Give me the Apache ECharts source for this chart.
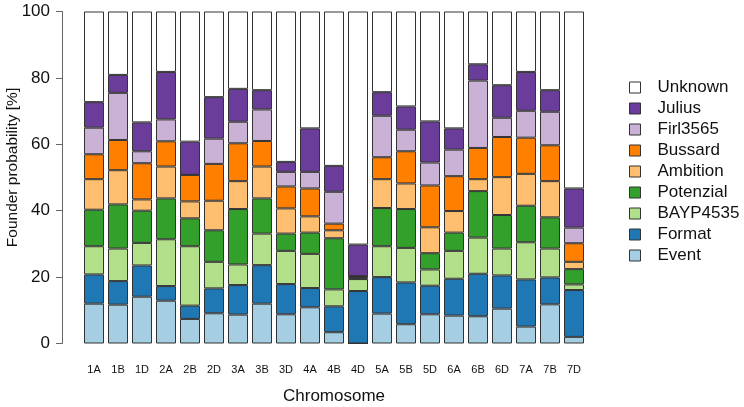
<!DOCTYPE html>
<html>
<head>
<meta charset="utf-8">
<script src="https://cdn.jsdelivr.net/npm/echarts@6/dist/echarts.min.js"></script>
<style>html,body{margin:0;padding:0;background:#fff;}#c{width:744px;height:407px;}</style>
</head>
<body>
<div id="c"></div>
<script>
var chromosomes = ['1A','1B','1D','2A','2B','2D','3A','3B','3D','4A','4B','4D','5A','5B','5D','6A','6B','6D','7A','7B','7D'];
var yTicks = [0, 20, 40, 60, 80, 100];
var Event     = [12.0,11.7,14.1,12.9,7.4,9.1,8.7,12.0,8.8,10.9,3.4,0,9.0,5.8,8.8,8.4,8.2,10.5,5.1,11.8,2.0];
var Format    = [8.8,7.1,9.4,4.4,4.0,7.5,8.9,11.6,9.1,5.8,7.8,15.8,11.0,12.6,8.6,11.1,12.8,10.0,14.2,8.1,14.1];
var BAYP4535  = [8.5,9.8,6.8,14.1,17.9,8.0,6.2,9.5,10.0,10.3,5.1,3.6,9.3,10.4,4.9,8.4,10.9,8.1,11.2,8.7,1.7];
var Potenzial = [11.0,13.3,9.7,12.3,8.4,9.5,16.7,10.6,5.2,6.4,15.4,0.2,11.5,11.7,4.9,5.5,14.0,10.1,11.0,9.4,4.6];
var Ambition  = [9.2,10.3,3.4,9.6,5.1,8.9,8.4,9.6,7.6,4.9,2.4,0.4,8.7,7.7,7.8,6.5,3.6,11.4,9.6,10.9,2.2];
var Bussard   = [7.5,9.1,10.9,7.6,8.0,11.1,11.4,7.7,6.6,8.4,2.0,0.2,6.6,9.7,12.6,10.5,9.4,12.1,10.9,10.8,5.6];
var Firl3565  = [8.0,14.2,3.6,6.6,0,7.6,6.5,9.5,4.4,5.0,9.6,0.1,12.5,6.5,6.9,8.0,20.3,5.8,8.1,10.1,4.7];
var Julius    = [7.7,5.4,8.7,14.3,10.0,12.5,9.9,5.8,3.0,13.1,7.8,9.5,7.1,7.0,12.4,6.4,4.9,9.8,11.7,6.5,11.8];
var Unknown   = [27.3,19.1,33.4,18.2,39.2,25.8,23.3,23.7,45.3,35.2,46.5,70.2,24.3,28.6,33.1,35.2,15.9,22.2,18.2,23.7,53.3];

var seriesNames = ['Event','Format','BAYP4535','Potenzial','Ambition','Bussard','Firl3565','Julius','Unknown'];
var seriesData = [Event, Format, BAYP4535, Potenzial, Ambition, Bussard, Firl3565, Julius, Unknown];
var colors = ['#A6CEE3','#1F78B4','#B2DF8A','#33A02C','#FDBF6F','#FF7F00','#CAB2D6','#6A3D9A','#FFFFFF'];

var font = 'Liberation Sans, Arial, sans-serif';
var chart = echarts.init(document.getElementById('c'), null, {renderer: 'canvas'});
var series = seriesNames.map(function (n, i) {
  return {
    name: n, type: 'bar', stack: 'all', data: seriesData[i], barWidth: 20,
    itemStyle: {color: colors[i], borderColor: '#333', borderWidth: 1},
    emphasis: {disabled: true}
  };
});
chart.setOption({
  animation: false,
  textStyle: {fontFamily: font},
  grid: {left: 82, right: 158, top: 11.5, bottom: 63.5, containLabel: false, outerBoundsMode: 'none'},
  legend: {
    orient: 'vertical', left: 624, top: 74,
    data: seriesNames.slice().reverse(),
    icon: 'rect', itemWidth: 11, itemHeight: 11, itemGap: 4,
    textStyle: {fontSize: 17, color: '#111', fontFamily: font, lineHeight: 17, padding: [0, 0, 0, 12]},
    itemStyle: {borderColor: '#333', borderWidth: 1}
  },
  xAxis: {
    type: 'category', data: chromosomes,
    axisLine: {show: false}, axisTick: {show: false},
    axisLabel: {fontSize: 11, color: '#111', margin: 21, interval: 0, fontFamily: font},
    name: 'Chromosome', nameLocation: 'middle', nameGap: 44, nameMoveOverlap: false,
    nameTextStyle: {fontSize: 17, color: '#111', fontFamily: font}
  },
  yAxis: {
    type: 'value', min: yTicks[0], max: yTicks[yTicks.length - 1], interval: 20, offset: 20,
    axisLine: {show: true, lineStyle: {color: '#666', width: 1}},
    axisTick: {show: true, length: 6, lineStyle: {color: '#666'}},
    splitLine: {show: false},
    axisLabel: {fontSize: 17, color: '#111', margin: 12, fontFamily: font},
    name: 'Founder probability [%]', nameLocation: 'middle', nameGap: 41, nameRotate: 90, nameMoveOverlap: false,
    nameTextStyle: {fontSize: 15.5, color: '#111', fontFamily: font, padding: [0, 0, 0, 20]}
  },
  series: series
});
</script>
</body>
</html>
